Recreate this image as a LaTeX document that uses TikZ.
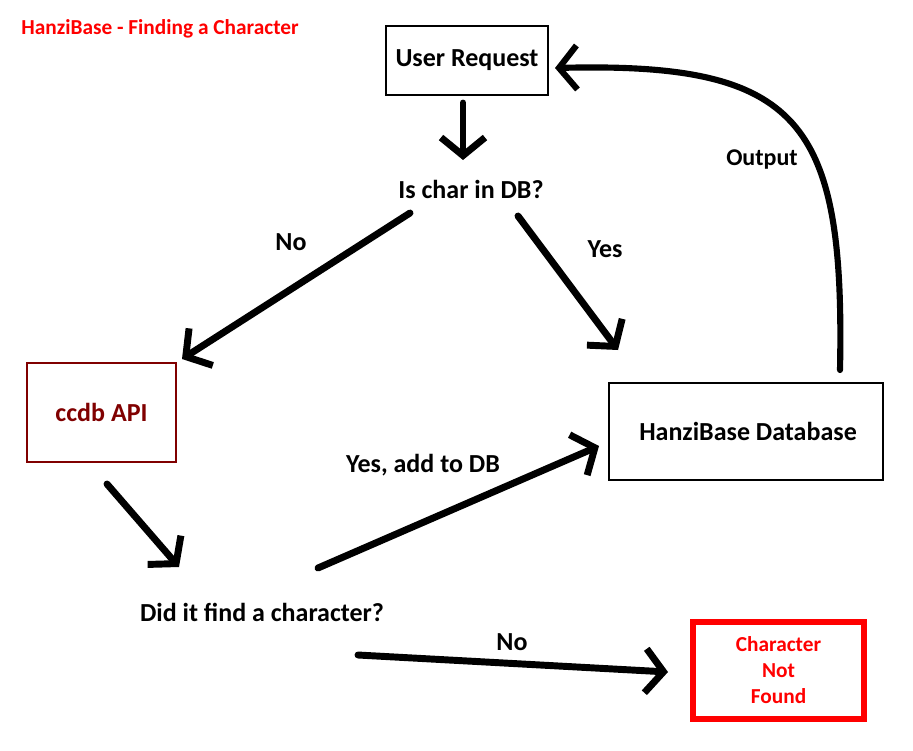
\documentclass[tikz,border=0pt]{standalone}
\usepackage{fontspec}
\setmainfont{Carlito}
\usetikzlibrary{arrows.meta}
\usetikzlibrary{positioning}

\definecolor{hbred}{RGB}{255,0,0}
\definecolor{hbdark}{RGB}{128,0,0}

\tikzset{
  bigarrow/.style={line width=5.2pt, line cap=round, -{Straight Barb[length=13.5pt,width=33pt]}},
  txt/.style={font=\bfseries\fontsize{19.5}{23}\selectfont, inner sep=0pt},
  lbl/.style={txt, yshift=-1.5pt},
  box/.style={draw, line width=1.5pt, txt},
}

\begin{document}
\begin{tikzpicture}[x=0.75pt, y=-0.75pt]
      \useasboundingbox (0,0) rectangle (913,750);

      \node[lbl, text=hbred, font=\bfseries\fontsize{16}{19}\selectfont] (title) at (160,27) {HanziBase - Finding a Character};

      % boxes
      \node[box, minimum width=121.5pt, minimum height=51.75pt] (req) at (467,60) {\raisebox{-1.5pt}{User Request}};
      \node[box, draw=hbdark, text=hbdark, minimum width=111.75pt, minimum height=74.25pt] (ccdb) at (101.5,412.5) {ccdb API};
      \node[box, minimum width=205.5pt, minimum height=72.75pt] (hzdb) at (746,431.5) {\raisebox{-1.5pt}{\hspace{3pt}HanziBase Database}};
      \node[box, draw=hbred, text=hbred, line width=5.2pt, align=center, font=\bfseries\fontsize{16}{19.5}\selectfont,
            minimum width=128.25pt, minimum height=72.75pt] (notfound) at (778.5,670.5) {Character\\Not\\Found};

      % questions
      \node[lbl] (isdb) at (471,187) {Is char in DB?};
      \node[lbl] (found) at (262,610) {Did it find a character?};

      % arrow ends
      \coordinate (req-out) at (463,103);
      \coordinate (isdb-in) at (463,160);
      \coordinate (isdb-no) at (410,213);
      \coordinate (ccdb-in) at (182,359);
      \coordinate (isdb-yes) at (518,216);
      \coordinate (hzdb-in) at (618,350);
      \coordinate (ccdb-out) at (107,484);
      \coordinate (found-in) at (179,567);
      \coordinate (found-yes) at (318,568);
      \coordinate (hzdb-add) at (599,446);
      \coordinate (found-no) at (358,655);
      \coordinate (notfound-in) at (668,672);
      \coordinate (hzdb-out) at (840,370);
      \coordinate (req-in) at (555,68);

      \draw[bigarrow] (req-out) -- (isdb-in);
      \draw[bigarrow] (isdb-no) -- (ccdb-in);
      \node[lbl] (lno) at (291,240) {No};
      \draw[bigarrow] (isdb-yes) -- (hzdb-in);
      \node[lbl] (lyes) at (605,247) {Yes};
      \draw[bigarrow] (ccdb-out) -- (found-in);
      \draw[bigarrow] (found-yes) -- (hzdb-add);
      \node[lbl] (ladd) at (423,463) {Yes, add to DB};
      \draw[bigarrow] (found-no) -- (notfound-in);
      \node[lbl] (lno2) at (512,640) {No};
      \draw[bigarrow, line width=4.6pt] (hzdb-out) .. controls (845,120) and (800,62) .. (req-in);
      \node[lbl, font=\bfseries\fontsize{18}{21}\selectfont] (lout) at (762,158) {Output};
\end{tikzpicture}
\end{document}
